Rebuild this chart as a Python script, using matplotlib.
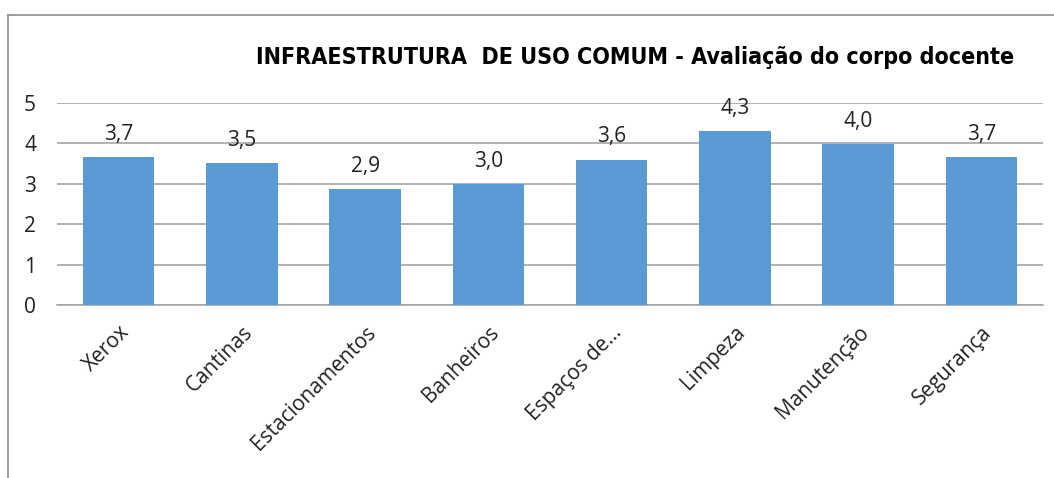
import matplotlib.pyplot as plt
from matplotlib.lines import Line2D

categorias = ["Xerox", "Cantinas", "Estacionamentos", "Banheiros",
              "Espaços de...", "Limpeza", "Manutenção", "Segurança"]
notas = [3.66, 3.51, 2.87, 3.0, 3.6, 4.31, 3.98, 3.66]
y_ticks = [0, 1, 2, 3, 4, 5]

plt.rcParams['font.family'] = ['Open Sans', 'DejaVu Sans']

fig = plt.figure(figsize=(10.54, 4.78), dpi=100)
ax = fig.add_axes([0.054, 0.362, 0.9356, 0.4226])

x = range(len(categorias))
bars = ax.bar(x, notas, width=0.58, color='#5B9BD5', zorder=3)
for b, v in zip(bars, notas):
    ax.text(b.get_x() + b.get_width() / 2, v + 0.3, f"{v:.1f}".replace('.', ','),
            ha='center', va='bottom', fontsize=15, color='#222222')

ax.set_xlim(-0.5, len(categorias) - 0.5)
ax.set_ylim(0, 5)
ax.set_yticks(y_ticks)
ax.set_yticklabels([str(t) for t in y_ticks], fontsize=15, color='#222222')
ax.yaxis.grid(True, color='#A6A6A6', linewidth=1.2, zorder=0)
ax.set_xticks(list(x))
ax.set_xticklabels(categorias, rotation=45, ha='right', va='top',
                   rotation_mode='anchor', fontsize=15, color='#222222')
ax.tick_params(axis='both', length=0)
ax.tick_params(axis='y', pad=15)
ax.tick_params(axis='x', pad=12)
for s in ['top', 'right', 'left']:
    ax.spines[s].set_visible(False)
ax.spines['bottom'].set_color('#A6A6A6')
ax.spines['bottom'].set_linewidth(1.2)

titulo = fig.text(0.6025, 0.879, "INFRAESTRUTURA  DE USO COMUM - Avaliação do corpo docente",
                  ha='center', va='center', fontsize=19, fontweight='bold',
                  family='DejaVu Sans', fontstretch='condensed')
# ajusta o tamanho para caber na largura do original (~756 px)
fig.canvas.draw()
w = titulo.get_window_extent().width
titulo.set_fontsize(19 * 756 / w)

# borda do gráfico (só topo e esquerda visíveis)
fig.add_artist(Line2D([0.0076, 1.0], [0.9686, 0.9686], color='#8C8C8C', linewidth=1.2))
fig.add_artist(Line2D([0.0076, 0.0076], [0.0, 0.9686], color='#8C8C8C', linewidth=1.2))

fig.savefig('out.png', dpi=100)
